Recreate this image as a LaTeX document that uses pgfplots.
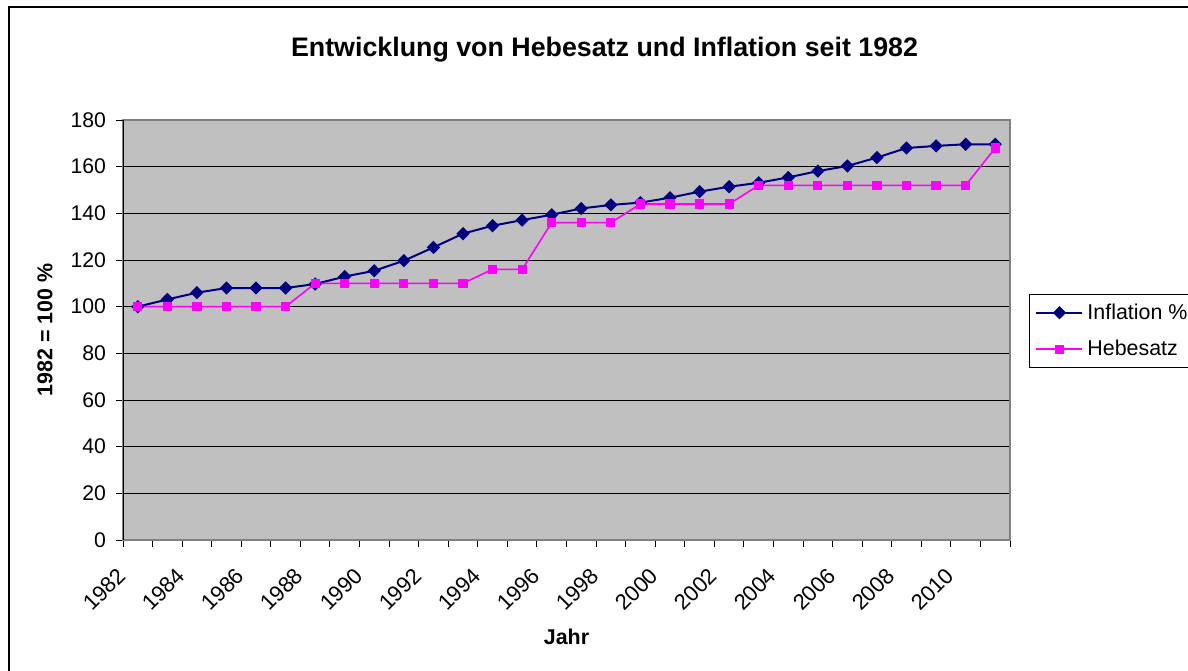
\documentclass[border=0pt]{standalone}
\usepackage{fontspec}
\setmainfont{Liberation Sans}
\usepackage{pgfplots}
\pgfplotsset{compat=1.18}
\definecolor{plotgray}{RGB}{192,192,192}
\definecolor{infl}{RGB}{0,0,128}
\definecolor{hebe}{RGB}{255,0,255}
\begin{document}
\begin{tikzpicture}
\clip (0,0) rectangle (594pt,-335pt);
\fill[white] (0,0) rectangle (594pt,-335pt);
\draw[line width=0.9pt] (4.65pt,-345pt) -- (4.65pt,-3.65pt) -- (610pt,-3.65pt);
\node[font=\fontsize{13.4}{16}\selectfont\bfseries] at (302.25pt,-25pt) {Entwicklung von Hebesatz und Inflation seit 1982};
\begin{axis}[
  at={(61.5pt,-270pt)}, anchor=south west,
  scale only axis, width=443.5pt, height=210pt,
  xmin=-0.5, xmax=29.5, ymin=0, ymax=180,
  axis background/.style={fill=plotgray},
  axis line style={draw=gray, line width=0.6pt},
  ytick={0,20,...,160},
  extra y ticks={180},
  extra y tick style={grid=none},
  ymajorgrids,
  major grid style={black, line width=0.5pt},
  tick align=outside, tick pos=left,
  major tick length=3.5pt,
  tick style={black, line width=0.5pt},
  xtick={-0.5,0.5,...,29.5},
  xticklabels={},
  extra x ticks={0,2,...,28},
  extra x tick labels={1982,1984,1986,1988,1990,1992,1994,1996,1998,2000,2002,2004,2006,2008,2010},
  extra x tick style={major tick length=0pt, grid=none,
    tick label style={xshift=-5.5pt, yshift=-13.5pt, rotate=45, anchor=east, font=\fontsize{11}{12}\selectfont}},
  /pgf/number format/assume math mode=true,
  /pgf/number format/1000 sep={},
  ticklabel style={font=\fontsize{10.6}{12}\selectfont},
  yticklabel style={xshift=-1.5pt},
  xlabel={\textbf{Jahr}},
  ylabel={\textbf{1982 = 100 \%}},
  label style={font=\fontsize{10.7}{12}\selectfont},
  xlabel style={at={(axis description cs:0.5,-0.231)}, anchor=center},
  ylabel style={at={(axis description cs:-0.0879,0.5)}, anchor=center},
  legend style={at={(axis description cs:1.0214,0.5857)}, anchor=north west,
    draw=black, line width=0.5pt, font=\fontsize{10.7}{12}\selectfont,
    row sep=5pt, inner xsep=3pt, inner ysep=2.5pt, cells={anchor=west}},
  legend image code/.code={\draw[mark repeat=2,mark phase=2,#1] plot coordinates {(0pt,0pt) (11.5pt,0pt) (23pt,0pt)};},
]
\draw[black, line width=0.6pt] (axis cs:-0.5,0) -- (axis cs:-0.5,180);
\addplot[infl, line width=1pt, mark=square*, mark size=1.85pt, mark options={rotate=45, fill=infl, draw=infl}]
coordinates {
(0,100.0) (1,103.1) (2,106.0) (3,108.0) (4,108.0) (5,108.0) (6,109.7) (7,112.9) (8,115.4) (9,119.7)
(10,125.4) (11,131.3) (12,134.7) (13,137.1) (14,139.4) (15,142.1) (16,143.6) (17,144.6) (18,146.7) (19,149.3)
(20,151.4) (21,153.1) (22,155.4) (23,158.1) (24,160.3) (25,163.9) (26,168.0) (27,168.9) (28,169.6) (29,169.6)
};
\addlegendentry{\makebox[60pt][l]{Inflation \%}}
\addplot[hebe, line width=0.8pt, mark=square*, mark size=1.9pt, mark options={fill=hebe, draw=hebe}]
coordinates {
(0,100) (1,100) (2,100) (3,100) (4,100) (5,100) (6,110) (7,110) (8,110) (9,110)
(10,110) (11,110) (12,116) (13,116) (14,136) (15,136) (16,136) (17,144) (18,144) (19,144)
(20,144) (21,152) (22,152) (23,152) (24,152) (25,152) (26,152) (27,152) (28,152) (29,168)
};
\addlegendentry{Hebesatz}
\end{axis}
\end{tikzpicture}
\end{document}
